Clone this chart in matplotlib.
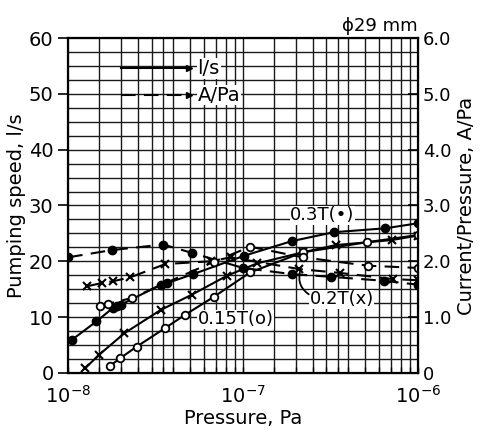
import matplotlib
matplotlib.use("Agg")
import matplotlib.pyplot as plt
from matplotlib.ticker import FixedLocator, NullFormatter

# 0.3 T, pumping speed (l/s), filled circles, solid line
p_03_s = [1.05e-8, 1.45e-8, 1.8e-8, 1.9e-8, 2.0e-8, 3.4e-8, 3.7e-8, 5.2e-8, 1.02e-7, 1.9e-7, 3.3e-7, 6.5e-7, 1.0e-6]
s_03 = [5.9, 9.2, 11.6, 11.9, 12.2, 15.8, 16.1, 17.7, 21.0, 23.6, 25.2, 25.9, 26.8]

# 0.3 T, current/pressure (A/Pa), dashed line
p_03_d = [1.0e-8, 1.78e-8, 3.5e-8, 5.1e-8, 1.0e-7, 1.9e-7, 3.2e-7, 6.4e-7, 1.0e-6]
a_03 = [2.07, 2.20, 2.30, 2.15, 1.88, 1.77, 1.72, 1.65, 1.58]

# 0.2 T, x markers
p_02_s = [1.25e-8, 1.5e-8, 2.1e-8, 3.4e-8, 5.1e-8, 8.1e-8, 1.2e-7, 2.2e-7, 3.4e-7, 7.1e-7, 1.0e-6]
s_02 = [0.8, 3.2, 7.1, 11.3, 14.0, 17.4, 19.6, 21.6, 22.9, 23.8, 24.6]
p_02_d = [1.28e-8, 1.56e-8, 1.8e-8, 2.26e-8, 3.6e-8, 6.6e-8, 8.5e-8, 2.1e-7, 3.6e-7, 7.2e-7, 1.0e-6]
a_02 = [1.55, 1.61, 1.64, 1.71, 1.95, 2.00, 2.07, 1.86, 1.79, 1.68, 1.66]

# 0.15 T, open circles
p_015_s = [1.74e-8, 1.98e-8, 2.47e-8, 3.58e-8, 4.67e-8, 6.8e-8, 1.1e-7, 2.2e-7, 5.1e-7, 1.0e-6]
s_015 = [1.25, 2.6, 4.7, 8.0, 10.4, 13.6, 18.0, 21.6, 23.4, 24.7]
p_015_d = [1.52e-8, 1.7e-8, 2.31e-8, 6.8e-8, 1.1e-7, 2.2e-7, 5.2e-7, 1.0e-6]
a_015 = [1.20, 1.24, 1.34, 1.99, 2.26, 2.07, 1.92, 1.88]

left_ticks = [0, 10, 20, 30, 40, 50, 60]
right_ticks = [0, 1, 2, 3, 4, 5, 6]
right_labels = ["0", "1.0", "2.0", "3.0", "4.0", "5.0", "6.0"]

plt.rcParams["font.family"] = "DejaVu Sans"

fig = plt.figure(figsize=(4.83, 4.33), dpi=100)
ax = fig.add_axes([0.141, 0.139, 0.724, 0.773])
ax2 = ax.twinx()

ax.set_xscale("log")
ax.set_xlim(1e-8, 1e-6)
ax.set_ylim(0, 60)
ax2.set_ylim(0, 6)

# grid like graph paper
vlines = []
for dec in [1e-8, 1e-7]:
    for m in [1.5, 2, 2.5, 3, 3.5, 4, 5, 6, 7, 8, 9]:
        vlines.append(m * dec)
vlines.append(1e-7)
for v in vlines:
    ax.axvline(v, color="0.1", lw=1.0, zorder=0)
h = 2.5
while h < 60:
    ax.axhline(h, color="0.1", lw=1.0, zorder=0)
    h += 2.5

ax.xaxis.set_major_locator(FixedLocator([1e-8, 1e-7, 1e-6]))
ax.set_xticklabels([r"$10^{-8}$", r"$10^{-7}$", r"$10^{-6}$"], fontsize=14)
ax.xaxis.set_minor_locator(FixedLocator(vlines))
ax.xaxis.set_minor_formatter(NullFormatter())
ax.tick_params(axis="x", which="both", direction="in", length=4, width=1.0, pad=9)
ax.set_yticks(left_ticks)
ax.tick_params(axis="y", direction="out", length=7, width=1.2, labelsize=14)
ax2.set_yticks(right_ticks)
ax2.set_yticklabels(right_labels)
ax2.tick_params(axis="y", direction="in", length=7, width=1.2, labelsize=13)

for sp in ["left", "right", "top", "bottom"]:
    ax2.spines[sp].set_linewidth(1.6)

ax.set_xlabel("Pressure, Pa", fontsize=14, labelpad=1)
ax.set_ylabel("Pumping speed, l/s", fontsize=14, labelpad=2)
ax2.set_ylabel("Current/Pressure, A/Pa", fontsize=14, labelpad=4)

# pumping speed curves (left axis)
ax.plot(p_03_s, s_03, "-", color="black", lw=1.5, marker="o", ms=6, mfc="black", zorder=3)
ax.plot(p_02_s, s_02, "-", color="black", lw=1.5, marker="x", ms=6, mew=1.5, zorder=3)
ax.plot(p_015_s, s_015, "-", color="black", lw=1.5, marker="o", ms=5.5, mfc="white", mew=1.3, zorder=3)

# current/pressure curves (right axis)
ax2.plot(p_03_d, a_03, "--", color="black", lw=1.5, dashes=(7, 4), marker="o", ms=6, mfc="black")
ax2.plot(p_02_d, a_02, "--", color="black", lw=1.5, dashes=(7, 4), marker="x", ms=6, mew=1.5)
ax2.plot(p_015_d, a_015, "--", color="black", lw=1.5, dashes=(7, 4), marker="o", ms=5.5, mfc="white", mew=1.3)

# legend drawn by hand
ax.plot([0.15, 0.345], [0.91, 0.91], "-", color="black", lw=1.5, transform=ax.transAxes)
ax.plot([0.15, 0.345], [0.83, 0.83], "--", color="black", lw=1.5, dashes=(7, 4), transform=ax.transAxes)
ax.plot([0.345], [0.83], marker=">", ms=4, color="black", transform=ax.transAxes)
ax.plot([0.345], [0.91], marker=">", ms=4, color="black", transform=ax.transAxes)
ax.text(0.37, 0.91, "l/s", fontsize=14, va="center", ha="left", transform=ax.transAxes,
        bbox=dict(facecolor="white", edgecolor="none", pad=0.5))
ax.text(0.37, 0.83, "A/Pa", fontsize=14, va="center", ha="left", transform=ax.transAxes,
        bbox=dict(facecolor="white", edgecolor="none", pad=0.5))

# annotations
fig.text(0.865, 0.92, "ϕ29 mm", fontsize=13, ha="right", va="bottom")
ax.text(0.635, 0.47, "0.3T(•)", fontsize=13, ha="left", va="center", transform=ax.transAxes,
        bbox=dict(facecolor="white", edgecolor="none", pad=0.3))
ax.text(0.69, 0.22, "0.2T(x)", fontsize=13, ha="left", va="center", transform=ax.transAxes,
        bbox=dict(facecolor="white", edgecolor="none", pad=0.3))
ax.text(0.37, 0.16, "0.15T(o)", fontsize=13, ha="left", va="center", transform=ax.transAxes,
        bbox=dict(facecolor="white", edgecolor="none", pad=0.3))
ax.annotate("", xy=(0.665, 0.31), xytext=(0.695, 0.23), xycoords="axes fraction",
            arrowprops=dict(arrowstyle="-", color="black", lw=1.3, connectionstyle="arc3,rad=-0.4"))

fig.savefig("out.png", dpi=100)
